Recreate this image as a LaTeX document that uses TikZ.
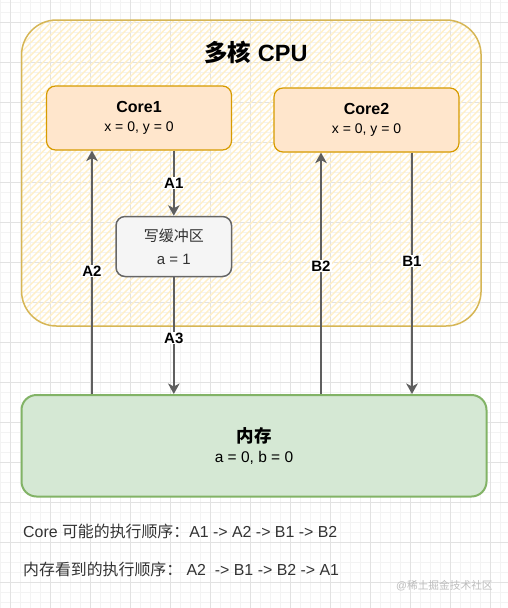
\documentclass[tikz,border=0pt]{standalone}
\usepackage{fontspec}
\setmainfont{Liberation Sans}
\newfontfamily\cjk{Noto Sans CJK SC}
\usetikzlibrary{arrows.meta,patterns.meta}
\newcommand\zh[1]{{\cjk #1}}
\definecolor{gridminor}{HTML}{F3F3F3}
\definecolor{gridmajor}{HTML}{E2E2E2}
\definecolor{cpustroke}{HTML}{D6B656}
\definecolor{cpuhatch}{HTML}{FFF0C8}
\definecolor{corefill}{HTML}{FFE6CC}
\definecolor{corestroke}{HTML}{D79B00}
\definecolor{buffill}{HTML}{F5F5F5}
\definecolor{bufstroke}{HTML}{666666}
\definecolor{memfill}{HTML}{D5E8D4}
\definecolor{memstroke}{HTML}{82B366}
\definecolor{arrowgray}{HTML}{5F5F5F}
\definecolor{txtgray}{HTML}{333333}
\definecolor{wmgray}{HTML}{BDBDBD}
\begin{document}
\begin{tikzpicture}[x=1pt,y=-1pt,
  minorline/.style={draw=gridminor,line width=0.6pt},
  majorline/.style={draw=gridmajor,line width=0.8pt},
  cpubox/.style={draw=cpustroke,line width=1.5pt,rounded corners=35pt,
    pattern={Lines[angle=45,distance=4.5pt,line width=1.4pt]},pattern color=cpuhatch,
    minimum width=459.5pt,minimum height=306pt,inner sep=0pt},
  corebox/.style={draw=corestroke,fill=corefill,line width=1.2pt,rounded corners=9pt,
    minimum width=185pt,minimum height=64pt,inner sep=0pt,align=center,
    font=\fontsize{14}{19}\selectfont},
  bufbox/.style={draw=bufstroke,fill=buffill,line width=1.5pt,rounded corners=9pt,
    minimum width=115.5pt,minimum height=60pt,inner sep=0pt,align=center,text=txtgray,
    font=\fontsize{15}{23}\selectfont},
  membox/.style={draw=memstroke,fill=memfill,line width=2pt,rounded corners=15pt,
    minimum width=465pt,minimum height=101.5pt,inner sep=0pt,align=center,
    font=\fontsize{15.5}{20}\selectfont},
  arr/.style={draw=arrowgray,line width=2pt,-{Stealth[length=10.5pt,width=11.5pt,inset=3pt]}},
  elabel/.style={fill=white,inner sep=1pt,font=\fontsize{15}{17}\selectfont\bfseries},
  bottomtext/.style={anchor=west,inner sep=0pt,text=txtgray,font=\fontsize{15.9}{20}\selectfont},
]
\useasboundingbox (0,0) rectangle (508,608);
\fill[white] (0,0) rectangle (508,608);
% grid
\foreach \x in {0,10,...,500} \draw[minorline] (\x,0) -- (\x,608);
\foreach \y in {2,12,...,602} \draw[minorline] (0,\y) -- (508,\y);
\foreach \x in {10,50,...,490} \draw[majorline] (\x,0) -- (\x,608);
\foreach \y in {22,62,...,582} \draw[majorline] (0,\y) -- (508,\y);

% CPU container
\node[cpubox] (cpu) at (251.3,173) {};
\node (title) at (256,52.5) {\fontsize{23.5}{27}\selectfont\bfseries\zh{多核} CPU};

% cores
\node[corebox] (core1) at (139,118) {{\fontsize{16}{19}\selectfont\bfseries Core1}\\x = 0, y = 0};
\node[corebox] (core2) at (366.5,120) {{\fontsize{16}{19}\selectfont\bfseries Core2}\\x = 0, y = 0};

% write buffer
\node[bufbox] (buf) at (173.8,246.5) {\zh{写缓冲区}\\a = 1};

% memory
\node[membox] (mem) at (254,445.75) {{\fontsize{17.5}{20}\selectfont\bfseries\zh{内存}}\\a = 0, b = 0};

% connector x positions
\coordinate (a2x) at (92,0);
\coordinate (b2x) at (321,0);
\coordinate (b1x) at (412,0);

\draw[arr] (core1.south -| buf.north) -- node[elabel,pos=0.5] (la1) {A1} (buf.north);
\draw[arr] (mem.north -| a2x) -- node[elabel,pos=0.505] (la2) {A2} (core1.south -| a2x);
\draw[arr] (buf.south) -- node[elabel,pos=0.52] (la3) {A3} (buf.south |- mem.north);
\draw[arr] (mem.north -| b2x) -- node[elabel,pos=0.53] (lb2) {B2} (core2.south -| b2x);
\draw[arr] (core2.south -| b1x) -- node[elabel,pos=0.45] (lb1) {B1} (mem.north -| b1x);

% bottom text
\node[bottomtext] (l1) at (23,531) {Core \zh{可能的执行顺序：}A1 -> A2 -> B1 -> B2};
\node[bottomtext] (l2) at (23,569.5) {\zh{内存看到的执行顺序：}\ A2\ \ -> B1 -> B2 -> A1};

% watermark
\node[anchor=west,inner sep=0pt,text=wmgray,font=\fontsize{10.7}{12}\selectfont] (wm) at (396,586) {@\zh{稀土掘金技术社区}};
\end{tikzpicture}
\end{document}
